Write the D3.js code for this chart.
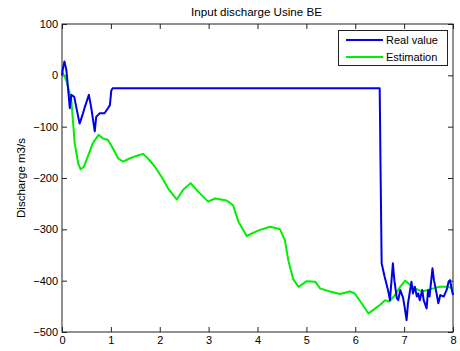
<!DOCTYPE html>
<html><head><meta charset="utf-8">
<script src="https://cdn.jsdelivr.net/npm/d3@7"></script>
<style>body{margin:0;background:#fff}svg{display:block}text{font-family:"Liberation Sans",Arial,sans-serif;fill:#000}</style>
</head><body>
<svg id="c" width="460" height="351"></svg>
<script>
const title = "Input discharge Usine BE";
const yLabel = "Discharge m3/s";
const seriesNames = ["Real value", "Estimation"];
const xTicks = [0,1,2,3,4,5,6,7,8];
const yTicks = [-500,-400,-300,-200,-100,0,100];

const realX = [0,0.02,0.05,0.09,0.16,0.19,0.25,0.29,0.36,0.43,0.46,0.55,0.6,0.67,0.70,0.74,0.77,0.87,0.94,0.98,1.01,1.04,6.50,6.52,6.54,6.60,6.67,6.71,6.77,6.80,6.85,6.88,6.92,6.98,7.01,7.05,7.08,7.15,7.18,7.22,7.26,7.29,7.32,7.37,7.40,7.46,7.49,7.52,7.58,7.61,7.65,7.70,7.74,7.81,7.87,7.91,7.94,7.97,8.0];
const realY = [0,14,27,10,-64,-38,-42,-61,-94,-74,-64,-38,-64,-109,-81,-77,-74,-74,-64,-58,-29,-25,-25,-200,-366,-392,-418,-438,-366,-399,-434,-438,-418,-434,-451,-477,-444,-402,-425,-412,-431,-425,-438,-418,-438,-454,-418,-431,-376,-399,-418,-444,-428,-431,-418,-402,-399,-415,-428];

const estX = [0,0.02,0.09,0.19,0.26,0.33,0.38,0.45,0.53,0.63,0.75,0.84,0.94,1.04,1.15,1.25,1.38,1.52,1.66,1.76,1.90,2.04,2.17,2.35,2.48,2.63,2.79,2.99,3.13,3.37,3.50,3.61,3.78,3.91,4.05,4.26,4.46,4.56,4.63,4.73,4.84,5.01,5.18,5.28,5.48,5.69,5.89,5.99,6.13,6.27,6.37,6.51,6.61,6.70,6.81,6.92,7.02,7.12,7.22,7.36,7.49,7.60,7.73,7.87,8.0];
const estY = [0,4,-10,-48,-132,-171,-183,-178,-158,-132,-116,-123,-126,-142,-162,-168,-162,-157,-153,-162,-178,-198,-220,-242,-223,-210,-227,-246,-240,-244,-253,-285,-313,-307,-301,-295,-300,-321,-360,-397,-412,-401,-402,-415,-421,-426,-421,-425,-444,-464,-457,-447,-438,-441,-428,-412,-400,-408,-415,-421,-418,-415,-412,-412,-415];

const svg = d3.select("#c");
const L = 62, R = 453, T = 24, B = 332;
const x = d3.scaleLinear().domain([0,8]).range([L,R]);
const y = d3.scaleLinear().domain([-500,100]).range([B,T]);

const tl = 5;
svg.append("g").attr("transform",`translate(0,${B})`)
  .call(d3.axisBottom(x).tickValues(xTicks).tickSizeInner(-tl).tickSizeOuter(0).tickPadding(4).tickFormat(d3.format("d")));
svg.append("g").attr("transform",`translate(0,${T})`)
  .call(d3.axisTop(x).tickValues(xTicks).tickSizeInner(-tl).tickSizeOuter(0).tickFormat(""));
svg.append("g").attr("transform",`translate(${L},0)`)
  .call(d3.axisLeft(y).tickValues(yTicks).tickSizeInner(-tl).tickSizeOuter(0).tickPadding(4).tickFormat(d3.format("d")));
svg.append("g").attr("transform",`translate(${R},0)`)
  .call(d3.axisRight(y).tickValues(yTicks).tickSizeInner(-tl).tickSizeOuter(0).tickFormat(""));
svg.selectAll(".domain").remove();
svg.selectAll(".tick line").attr("stroke","#222");
svg.selectAll(".tick text").attr("font-size",11).attr("fill","#000");
svg.append("rect").attr("x",L).attr("y",T).attr("width",R-L).attr("height",B-T)
  .attr("fill","none").attr("stroke","#222").attr("stroke-width",1);

const line = d3.line().x(d=>x(d[0])).y(d=>y(d[1]));
svg.append("path").datum(estX.map((v,i)=>[v,estY[i]]))
  .attr("d",line).attr("fill","none").attr("stroke","#00ee00").attr("stroke-width",2).attr("stroke-linejoin","round");
svg.append("path").datum(realX.map((v,i)=>[v,realY[i]]))
  .attr("d",line).attr("fill","none").attr("stroke","#0000e6").attr("stroke-width",2).attr("stroke-linejoin","round");

svg.append("text").attr("x",(L+R)/2 - 1).attr("y",16).attr("text-anchor","middle").attr("font-size",11.6).text(title);
svg.append("text").attr("transform",`translate(25,${(T+B)/2}) rotate(-90)`).attr("text-anchor","middle").attr("font-size",11.5).text(yLabel);

const lg = svg.append("g");
lg.append("rect").attr("x",338.5).attr("y",30.5).attr("width",109).attr("height",35).attr("fill","#fff").attr("stroke","#222");
const cols = ["#0000e6","#00ee00"];
seriesNames.forEach((n,i)=>{
  const yy = 40 + i*17;
  lg.append("line").attr("x1",346).attr("x2",383).attr("y1",yy).attr("y2",yy).attr("stroke",cols[i]).attr("stroke-width",2);
  lg.append("text").attr("x",386).attr("y",yy+4).attr("font-size",11).text(n);
});
</script>
</body></html>
